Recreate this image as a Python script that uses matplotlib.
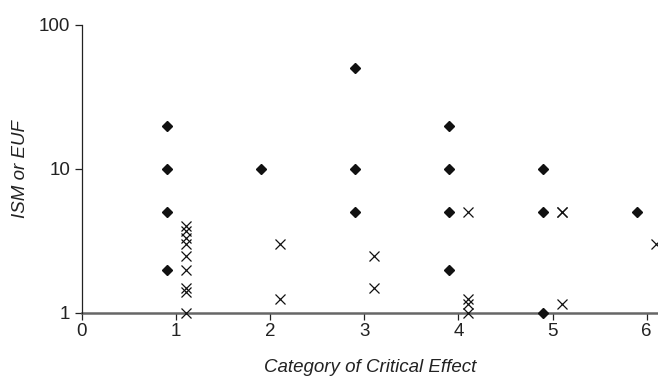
import matplotlib.pyplot as plt

plt.rcParams['font.family'] = ['Liberation Sans', 'DejaVu Sans']

# ISM values (diamonds), plotted slightly left of each category
ism_x = [0.9, 0.9, 0.9, 0.9, 1.9, 2.9, 2.9, 2.9, 3.9, 3.9, 3.9, 3.9, 4.9, 4.9, 4.9, 5.9]
ism_y = [20, 10, 5, 2, 10, 50, 10, 5, 20, 10, 5, 2, 10, 5, 1, 5]

# EUF values (crosses), plotted slightly right of each category
euf_x = [1.1, 1.1, 1.1, 1.1, 1.1, 1.1, 1.1, 1.1, 1.1,
         2.1, 2.1, 3.1, 3.1, 4.1, 4.1, 4.1, 4.1, 5.1, 5.1, 5.1, 6.1]
euf_y = [4, 3.7, 3.3, 3, 2.5, 2, 1.5, 1.4, 1,
         3, 1.25, 2.5, 1.5, 5, 1.25, 1.15, 1, 5, 5, 1.15, 3]

x_ticks = [0, 1, 2, 3, 4, 5, 6]
y_ticks = [1, 10, 100]

fig = plt.figure(figsize=(6.58, 3.78), dpi=100)
ax = fig.add_axes([0.1246, 0.172, 0.8754, 0.762])

ax.plot(ism_x, ism_y, linestyle='none', marker='D', markersize=4.8,
        color='#111111', clip_on=False, zorder=3)
ax.plot(euf_x, euf_y, linestyle='none', marker='x', markersize=7.5,
        markeredgewidth=0.9, color='#111111', clip_on=False, zorder=3)

ax.set_yscale('log')
ax.set_ylim(1, 100)
ax.set_xlim(0, 6.12)
ax.set_xticks(x_ticks)
ax.set_xticklabels([str(t) for t in x_ticks])
ax.set_yticks(y_ticks)
ax.set_yticklabels([str(t) for t in y_ticks])
ax.yaxis.set_minor_locator(plt.NullLocator())

ax.spines['top'].set_visible(False)
ax.spines['right'].set_visible(False)
ax.spines['left'].set_color('#222222')
ax.spines['left'].set_linewidth(0.9)
ax.spines['bottom'].set_color('#666666')
ax.spines['bottom'].set_linewidth(1.8)
ax.spines['bottom'].set_zorder(2)

ax.tick_params(axis='both', labelsize=13.5, colors='#222222', length=5, width=0.9)
ax.tick_params(axis='x', pad=2)

ax.set_xlabel('Category of Critical Effect', fontsize=13.5, fontstyle='italic',
              color='#222222', labelpad=14)
ax.set_ylabel('ISM or EUF', fontsize=13.5, fontstyle='italic',
              color='#222222', labelpad=7)

fig.savefig('out.png', dpi=100)
